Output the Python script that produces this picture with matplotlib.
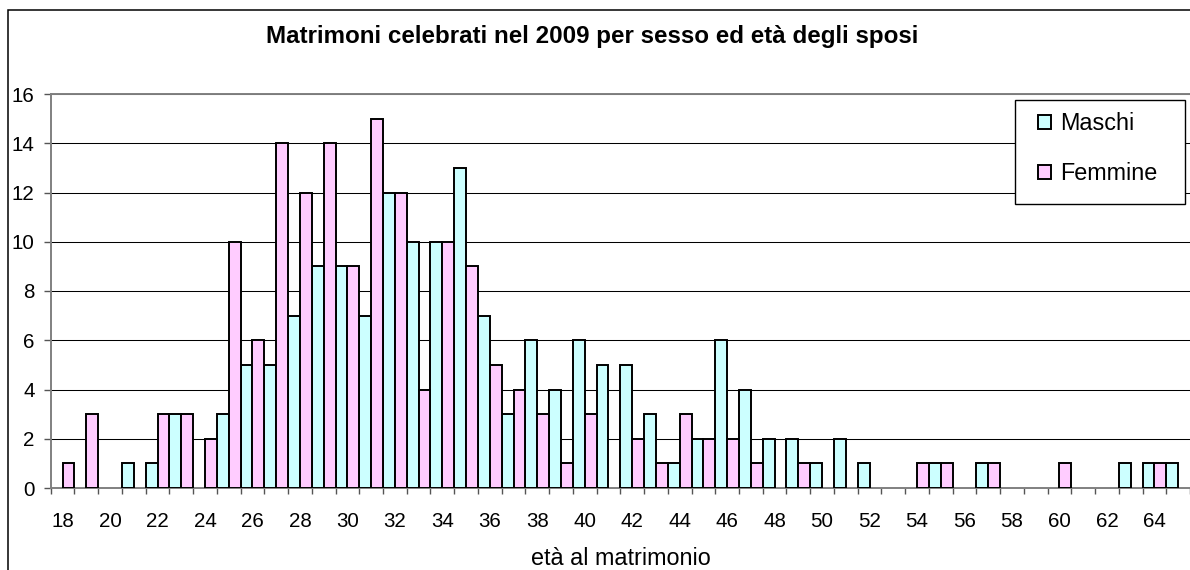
# libraries ----------------------
import numpy as np
import matplotlib
matplotlib.use('Agg')
import matplotlib.pyplot as plt
from matplotlib.patches import Rectangle

plt.rcParams['font.family'] = ['Liberation Sans', 'DejaVu Sans']

# data ---------------------------
eta = list(range(18, 66))
maschi = [0, 0, 0, 1, 1, 3, 0, 3, 5, 5, 7, 9, 9, 7, 12, 10, 10, 13, 7, 3, 6, 4, 6, 5,
          5, 3, 1, 2, 6, 4, 2, 2, 1, 2, 1, 0, 0, 1, 0, 1, 0, 0, 0, 0, 0, 1, 1, 1]
femmine = [1, 3, 0, 0, 3, 3, 2, 10, 6, 14, 12, 14, 9, 15, 12, 4, 10, 9, 5, 4, 3, 1, 3, 0,
           2, 1, 3, 2, 2, 1, 0, 1, 0, 0, 0, 0, 1, 1, 0, 1, 0, 0, 1, 0, 0, 0, 1, 0]
titolo = 'Matrimoni celebrati nel 2009 per sesso ed età degli sposi'
etichetta_x = 'età al matrimonio'

# figure -------------------------
W, H = 1190, 570
fig = plt.figure(figsize=(W / 100, H / 100), dpi=100)
ax = fig.add_axes([50.7 / W, 1 - 488 / H, (W - 50.7) / W, (488 - 94) / H])

x = np.arange(len(eta))
m = np.array(maschi)
f = np.array(femmine)
ax.bar(x[m > 0] - 0.25, m[m > 0], width=0.5, color='#CCFFFF', edgecolor='black',
       linewidth=1.4, label='Maschi', zorder=3)
ax.bar(x[f > 0] + 0.25, f[f > 0], width=0.5, color='#FFCCFF', edgecolor='black',
       linewidth=1.4, label='Femmine', zorder=3)

ax.set_xlim(-0.5, -0.5 + (W - 50.7) / 23.86)
ax.set_ylim(0, 16)

# ticks
ax.set_xticks(np.arange(len(eta) + 1) - 0.5)
ax.set_xticks(x[::2], minor=True)
ax.set_xticklabels([str(e) for e in eta[::2]], minor=True)
ax.tick_params(axis='x', which='major', length=4, width=1, color='#555555',
               labelbottom=False)
ax.tick_params(axis='x', which='minor', length=0, pad=17, labelsize=14.8)
ax.set_yticks(range(0, 17, 2))
ax.tick_params(axis='y', length=5, width=1, color='#555555', pad=6.5, labelsize=14.8)

ax.yaxis.grid(True, color='black', linewidth=0.75)
ax.set_axisbelow(True)
for s in ['left', 'top', 'bottom']:
    ax.spines[s].set_color('#808080')
    ax.spines[s].set_linewidth(1.4)
ax.spines['right'].set_visible(False)

# texts
fig.text(592 / W, 1 - 43 / H, titolo, ha='center', va='baseline',
         fontsize=17.4, fontweight='bold')
fig.text(621 / W, 1 - 565 / H, etichetta_x, ha='center', va='baseline', fontsize=16.8)

# legend
ax.add_patch(Rectangle((1015 / W, 1 - 204 / H), 170 / W, 104 / H, transform=fig.transFigure,
                       facecolor='white', edgecolor='black', linewidth=1, zorder=4,
                       clip_on=False))
ax.legend(loc='upper left', bbox_to_anchor=(1038 / W, 1 - 112 / H),
          bbox_transform=fig.transFigure, frameon=False, fontsize=16.8,
          handlelength=0.55, handleheight=0.55, handletextpad=0.4,
          labelspacing=1.15, borderpad=0, borderaxespad=0)

# outer frame
fig.add_artist(Rectangle((8 / W, -1), 2, 2 - 10 / H, transform=fig.transFigure,
                         fill=False, edgecolor='black', linewidth=1.1))

fig.savefig('out.png', dpi=100)
